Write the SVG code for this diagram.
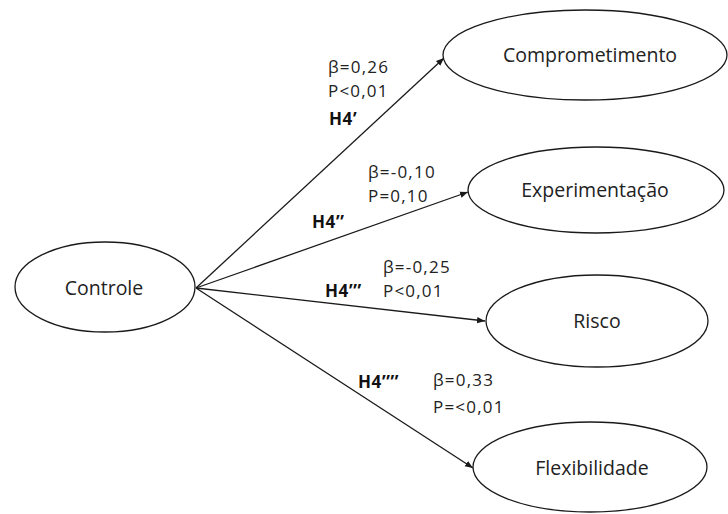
<svg xmlns="http://www.w3.org/2000/svg" width="728" height="514" viewBox="0 0 728 514">
  <defs>
    <marker id="arrow" viewBox="0 0 10 10" refX="10" refY="5" markerWidth="8" markerHeight="8" markerUnits="userSpaceOnUse" orient="auto">
      <path d="M0,1 L10,5 L0,9 Z" fill="#1a1a1a"/>
    </marker>
    <style>
      .node ellipse { fill: #ffffff; stroke: #1a1a1a; stroke-width: 1.3; }
      .node text { font-family: "Open Sans", "DejaVu Sans", sans-serif; font-size: 19.5px; fill: #222222; text-anchor: middle; }
      .edge { stroke: #1a1a1a; stroke-width: 1.3; fill: none; marker-end: url(#arrow); }
      .lbl { font-family: "Open Sans", "DejaVu Sans", sans-serif; font-size: 17px; letter-spacing: 1.2px; fill: #222222; }
      .hyp { font-family: "Open Sans", "DejaVu Sans", sans-serif; font-size: 17px; letter-spacing: 0.6px; font-weight: bold; fill: #111111; }
    </style>
  </defs>
  <rect width="728" height="514" fill="#ffffff"/>

  <!-- paths from Controle to each outcome -->
  <g id="connectors">
    <line class="edge" x1="196" y1="288" x2="444" y2="58"/>
    <line class="edge" x1="196" y1="288" x2="468" y2="192"/>
    <line class="edge" x1="196" y1="288" x2="485" y2="321"/>
    <line class="edge" x1="196" y1="288" x2="473" y2="468"/>
  </g>

  <!-- coefficient and hypothesis labels -->
  <g id="labels">
    <text class="lbl" x="328" y="73">β=0,26</text>
    <text class="lbl" x="328" y="97">P&lt;0,01</text>
    <text class="hyp" x="329" y="125">H4’</text>

    <text class="lbl" x="368" y="178">β=-0,10</text>
    <text class="lbl" x="368" y="202">P=0,10</text>
    <text class="hyp" x="312" y="228">H4’’</text>

    <text class="lbl" x="383" y="273">β=-0,25</text>
    <text class="lbl" x="383" y="297">P&lt;0,01</text>
    <text class="hyp" x="325" y="297">H4’’’</text>

    <text class="hyp" x="358" y="388">H4’’’’</text>
    <text class="lbl" x="433" y="386">β=0,33</text>
    <text class="lbl" x="433" y="413">P=&lt;0,01</text>
  </g>

  <g id="controle" class="node">
    <ellipse cx="105" cy="287" rx="90" ry="45"/>
    <text x="104" y="295">Controle</text>
  </g>
  <g id="comprometimento" class="node">
    <ellipse cx="585" cy="55" rx="142" ry="45"/>
    <text x="590" y="62">Comprometimento</text>
  </g>
  <g id="experimentacao" class="node">
    <ellipse cx="596" cy="190" rx="128" ry="43"/>
    <text x="595" y="197">Experimentação</text>
  </g>
  <g id="risco" class="node">
    <ellipse cx="597" cy="321" rx="111" ry="46"/>
    <text x="597" y="328">Risco</text>
  </g>
  <g id="flexibilidade" class="node">
    <ellipse cx="590" cy="467" rx="117" ry="45"/>
    <text x="592" y="475">Flexibilidade</text>
  </g>
</svg>
